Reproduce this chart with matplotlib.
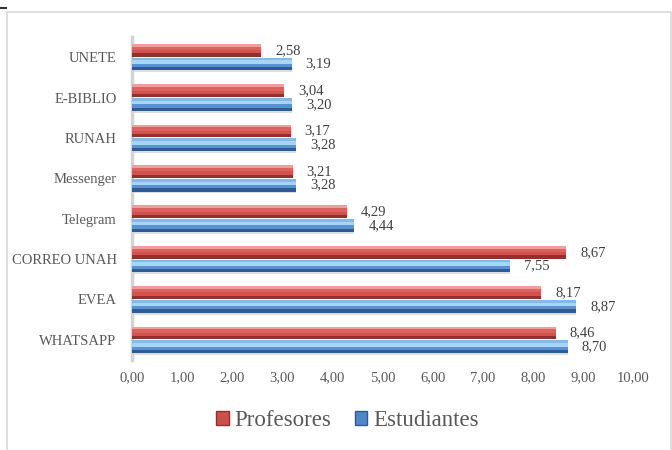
import numpy as np
import matplotlib
matplotlib.use("Agg")
import matplotlib.pyplot as plt
from matplotlib.patches import Patch, Rectangle
from matplotlib.lines import Line2D

plt.rcParams["font.family"] = ["Liberation Serif", "DejaVu Serif"]

# data (top to bottom as in the chart)
categories = ["UNETE", "E-BIBLIO", "RUNAH", "Messenger", "Telegram",
              "CORREO UNAH", "EVEA", "WHATSAPP"]
profesores = [2.58, 3.04, 3.17, 3.21, 4.29, 8.67, 8.17, 8.46]
estudiantes = [3.19, 3.20, 3.28, 3.28, 4.44, 7.55, 8.87, 8.70]
series_names = ["Profesores", "Estudiantes"]
xticks = [0, 1, 2, 3, 4, 5, 6, 7, 8, 9, 10]

TEXT = "#595959"
# horizontal bands (top -> bottom) to fake the bevelled 3D look
bands = [(0.00, 0.22), (0.22, 0.50), (0.50, 0.76), (0.76, 1.00)]
red_shades = ["#EE9E9C", "#DC625F", "#D4524E", "#91302D"]
blue_shades = ["#86B9E8", "#A6D6F7", "#5A91D0", "#2E5B95"]

fig = plt.figure(figsize=(6.72, 4.5), dpi=100)
ax = fig.add_axes([132 / 672, 1 - 360 / 450, 501 / 672, 323 / 450])

y = np.arange(len(categories))
h = 0.31
off = 0.17


def bevel_bars(ypos, vals, shades):
    top = ypos - h / 2  # axis is inverted, smaller y is higher
    for (a, b), c in zip(bands, shades):
        ax.barh(top + h * (a + b) / 2, vals, height=h * (b - a) + 0.005,
                color=c, linewidth=0, zorder=3)


# faint shadow under each pair
ax.barh(y + off + h / 2 + 0.025, estudiantes, height=0.05, color="#DEDEDE",
        linewidth=0, zorder=2)
bevel_bars(y - off, profesores, red_shades)
bevel_bars(y + off, estudiantes, blue_shades)

for yi, v in zip(y - off, profesores):
    ax.annotate(f"{v:.2f}".replace(".", ","), (v, yi), xytext=(10, 0),
                textcoords="offset points", va="center", ha="left",
                fontsize=10.5, color="#404040")
for yi, v in zip(y + off, estudiantes):
    ax.annotate(f"{v:.2f}".replace(".", ","), (v, yi), xytext=(10, 0),
                textcoords="offset points", va="center", ha="left",
                fontsize=10.5, color="#404040")

ax.set_ylim(len(categories) - 0.5, -0.5)
ax.set_xlim(0, 10)
ax.set_yticks(y)
ax.set_yticklabels(categories)
ax.set_xticks(xticks)
ax.set_xticklabels([f"{t:.2f}".replace(".", ",") for t in xticks])
ax.tick_params(axis="both", length=0, labelsize=10.5, colors=TEXT)
ax.tick_params(axis="y", pad=11)
ax.tick_params(axis="x", pad=8)

for s in ["top", "right", "bottom"]:
    ax.spines[s].set_visible(False)
ax.spines["left"].set_color("#D4D4D4")
ax.spines["left"].set_linewidth(2.5)
ax.patch.set_alpha(0)

# outer chart frame
fig.patches.append(Rectangle((7 / 672, -0.01), 1 - 8 / 672, 1 - 12 / 450 + 0.01,
                             transform=fig.transFigure, fill=False,
                             edgecolor="#D9D9D9", linewidth=1.2))
fig.lines.append(Line2D([0, 6 / 672], [1 - 7.5 / 450, 1 - 7.5 / 450],
                        transform=fig.transFigure, color="#333333", linewidth=1.5))

handles = [Patch(facecolor="#C9504C", edgecolor="#91302D"),
           Patch(facecolor="#4F86C6", edgecolor="#2E5B95")]
leg = fig.legend(handles, series_names, loc="center", bbox_to_anchor=(0.517, 1 - 421 / 450),
                 ncol=2, frameon=False, fontsize=16.5, handlelength=0.55, handleheight=0.55,
                 handletextpad=0.25, columnspacing=1.0)
for t in leg.get_texts():
    t.set_color(TEXT)

fig.savefig("out.png", dpi=100)
